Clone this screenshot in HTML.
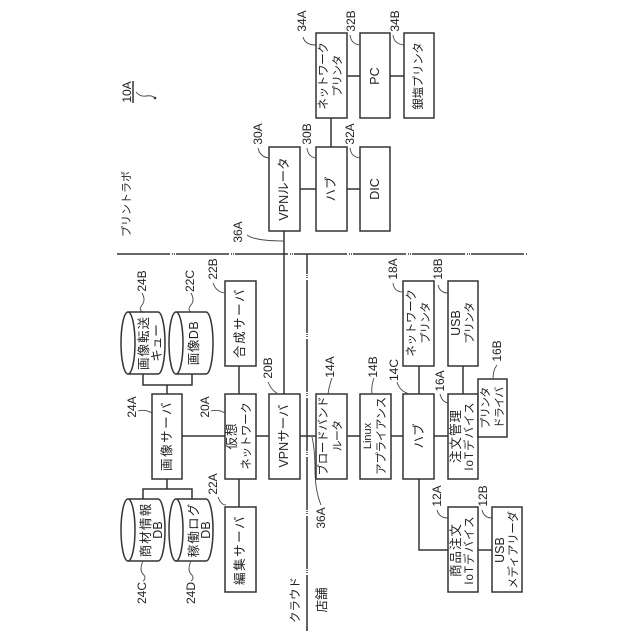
<!DOCTYPE html>
<html><head><meta charset="utf-8"><style>
html,body{margin:0;padding:0;background:#fff}
svg{display:block}
rect{fill:#fff;stroke:#333;stroke-width:1.5}
.l,.c{fill:none;stroke:#333;stroke-width:1.5}
.t{stroke:#444;stroke-width:.9;fill:none}
text{font-family:"Liberation Sans","Noto Sans CJK JP",sans-serif;fill:#222;text-anchor:middle;dominant-baseline:central}
.b{font-size:12.5px}
.k{font-size:11.5px;letter-spacing:-.3px}
.p{font-size:11px;letter-spacing:-.7px}
.i{font-size:11.5px;letter-spacing:1px}
.s{font-size:11px}
.n{font-size:12px}
</style></head><body>
<svg width="640" height="640" viewBox="0 0 640 640" xmlns="http://www.w3.org/2000/svg">
<!-- boundaries -->
<path class="l" stroke-dasharray="53 2 1 1 1 1" d="M117 254H527"/>
<path class="l" stroke-dasharray="53 2 1 1 1 1" stroke-dashoffset="-3" d="M307 631V254"/>
<path class="l" d="M307 631V627"/>
<!-- connectors -->
<path class="l" d="M143 374V385H192V374M167 385V394M143 499V489H192V499M167 489V479"/>
<path class="l" d="M182 436H448M239 366V394M239 479V507"/>
<path class="l" d="M284 231V394M300 189H360M331 118V147M347 76H404"/>
<path class="l" d="M419 366V394M463 366V394M419 479V550H492"/>
<!-- boxes -->
<rect x="225" y="281" width="31" height="85"/>
<rect x="152" y="394" width="30" height="85"/>
<rect x="225" y="394" width="31" height="85"/>
<rect x="269" y="394" width="31" height="85"/>
<rect x="225" y="507" width="31" height="85"/>
<rect x="269" y="147" width="31" height="84"/>
<rect x="316" y="147" width="31" height="84"/>
<rect x="360" y="147" width="30" height="84"/>
<rect x="316" y="33" width="31" height="85"/>
<rect x="360" y="33" width="30" height="85"/>
<rect x="404" y="33" width="30" height="85"/>
<rect x="316" y="394" width="31" height="85"/>
<rect x="360" y="394" width="31" height="85"/>
<rect x="403" y="394" width="31" height="85"/>
<rect x="448" y="394" width="30" height="85"/>
<rect x="478" y="379" width="29" height="58"/>
<rect x="403" y="281" width="31" height="85"/>
<rect x="448" y="281" width="30" height="85"/>
<rect x="448" y="507" width="30" height="85"/>
<rect x="492" y="507" width="30" height="85"/>
<!-- cylinders -->
<path class="c" d="M128 312H158A7 31 0 0 1 158 374H128A7 31 0 0 1 128 312A7 31 0 0 1 128 374"/>
<path class="c" d="M176 312H206A7 31 0 0 1 206 374H176A7 31 0 0 1 176 312A7 31 0 0 1 176 374"/>
<path class="c" d="M128 499H158A7 31 0 0 1 158 561H128A7 31 0 0 1 128 499A7 31 0 0 1 128 561"/>
<path class="c" d="M176 499H206A7 31 0 0 1 206 561H176A7 31 0 0 1 176 499A7 31 0 0 1 176 561"/>
<!-- box text -->
<g class="b">
<text transform="translate(240 323) rotate(-90)" letter-spacing="1.5">合成サーバ</text>
<text transform="translate(167 436) rotate(-90)" letter-spacing="1.5">画像サーバ</text>
<text transform="translate(232 436) rotate(-90)" letter-spacing="1">仮想</text>
<text class="k" transform="translate(247 436) rotate(-90)">ネットワーク</text>
<text transform="translate(284 436) rotate(-90)">VPNサーバ</text>
<text transform="translate(240 550) rotate(-90)" letter-spacing="1.5">編集サーバ</text>
<text transform="translate(144 343) rotate(-90)" letter-spacing="1">画像転送</text>
<text transform="translate(157 343) rotate(-90)">キュー</text>
<text transform="translate(194 343) rotate(-90)" letter-spacing=".5">画像DB</text>
<text transform="translate(146 530) rotate(-90)" letter-spacing="1.2">商材情報</text>
<text transform="translate(158 530) rotate(-90)">DB</text>
<text transform="translate(194 530) rotate(-90)" letter-spacing="1.2">稼働ログ</text>
<text transform="translate(206 530) rotate(-90)">DB</text>
<text transform="translate(284 189) rotate(-90)">VPNルータ</text>
<text transform="translate(331 189) rotate(-90)">ハブ</text>
<text transform="translate(375 189) rotate(-90)">DIC</text>
<text class="k" transform="translate(324 76) rotate(-90)">ネットワーク</text>
<text class="p" transform="translate(338 76) rotate(-90)">プリンタ</text>
<text transform="translate(375 76) rotate(-90)">PC</text>
<text class="k" transform="translate(419 76) rotate(-90)">銀塩プリンタ</text>
<text class="k" transform="translate(324 436) rotate(-90)">ブロードバンド</text>
<text class="p" transform="translate(338 436) rotate(-90)">ルータ</text>
<text transform="translate(368 436) rotate(-90)" font-size="11">Linux</text>
<text class="k" transform="translate(382 436) rotate(-90)">アプライアンス</text>
<text transform="translate(419 436) rotate(-90)">ハブ</text>
<text transform="translate(456 436) rotate(-90)" letter-spacing="1">注文管理</text>
<text class="i" transform="translate(470 436) rotate(-90)">IoTデバイス</text>
<text class="p" transform="translate(486 408) rotate(-90)">プリンタ</text>
<text class="p" transform="translate(500 408) rotate(-90)">ドライバ</text>
<text class="k" transform="translate(412 323) rotate(-90)">ネットワーク</text>
<text class="p" transform="translate(426 323) rotate(-90)">プリンタ</text>
<text transform="translate(456 323) rotate(-90)">USB</text>
<text class="p" transform="translate(470 323) rotate(-90)">プリンタ</text>
<text transform="translate(456 550) rotate(-90)" letter-spacing="1">商品注文</text>
<text class="i" transform="translate(470 550) rotate(-90)">IoTデバイス</text>
<text transform="translate(500 550) rotate(-90)">USB</text>
<text class="k" transform="translate(514 550) rotate(-90)">メディアリーダ</text>
</g>
<!-- region labels -->
<g class="s">
<text transform="translate(127 204) rotate(-90)">プリントラボ</text>
<text transform="translate(296 600) rotate(-90)" font-size="11.5">クラウド</text>
<text transform="translate(322 600) rotate(-90)" font-size="12.5">店舗</text>
</g>
<!-- reference numbers -->
<g class="n">
<text transform="translate(127 92) rotate(-90)">10A</text>
<text transform="translate(142 281) rotate(-90)">24B</text>
<text transform="translate(190 281) rotate(-90)">22C</text>
<text transform="translate(213 269) rotate(-90)">22B</text>
<text transform="translate(132 407) rotate(-90)">24A</text>
<text transform="translate(205 407) rotate(-90)">20A</text>
<text transform="translate(268 368) rotate(-90)">20B</text>
<text transform="translate(213 484) rotate(-90)">22A</text>
<text transform="translate(142 593) rotate(-90)">24C</text>
<text transform="translate(191 593) rotate(-90)">24D</text>
<text transform="translate(238 232) rotate(-90)">36A</text>
<text transform="translate(321 518) rotate(-90)">36A</text>
<text transform="translate(258 134) rotate(-90)">30A</text>
<text transform="translate(307 134) rotate(-90)">30B</text>
<text transform="translate(350 134) rotate(-90)">32A</text>
<text transform="translate(302 21) rotate(-90)">34A</text>
<text transform="translate(351 21) rotate(-90)">32B</text>
<text transform="translate(395 21) rotate(-90)">34B</text>
<text transform="translate(393 269) rotate(-90)">18A</text>
<text transform="translate(438 269) rotate(-90)">18B</text>
<text transform="translate(497 351) rotate(-90)">16B</text>
<text transform="translate(440 381) rotate(-90)">16A</text>
<text transform="translate(394 370) rotate(-90)">14C</text>
<text transform="translate(373 367) rotate(-90)">14B</text>
<text transform="translate(330 367) rotate(-90)">14A</text>
<text transform="translate(437 496) rotate(-90)">12A</text>
<text transform="translate(483 496) rotate(-90)">12B</text>
</g>
<!-- underline + leaders -->
<path class="l" d="M133 81V103"/>
<circle cx="155" cy="98" r="1.3" fill="#333"/>
<path class="t" d="M136 92Q140 97 146 96T155 98"/>
<path class="t" d="M142 293Q146 300 142 305T143 312"/>
<path class="t" d="M191 293Q195 300 191 305T191 312"/>
<path class="t" d="M213 283Q216 292 225 293"/>
<path class="t" d="M138 411Q145 409 152 413"/>
<path class="t" d="M211 411Q218 409 225 413"/>
<path class="t" d="M268 382Q272 391 277 393"/>
<path class="t" d="M218 497Q221 505 226 505"/>
<path class="t" d="M143 561Q139 570 143 574T143 581"/>
<path class="t" d="M191 561Q187 570 191 574T191 581"/>
<path class="t" d="M247 235Q255 241 284 241"/>
<path class="t" d="M321 505Q315 490 315 470T312 437"/>
<path class="t" d="M258 148Q260 157 269 158"/>
<path class="t" d="M307 148Q308 157 316 158"/>
<path class="t" d="M350 148Q351 157 360 158"/>
<path class="t" d="M303 37Q305 45 316 45"/>
<path class="t" d="M350 35Q351 44 360 45"/>
<path class="t" d="M393 35Q394 44 404 45"/>
<path class="t" d="M393 283Q394 292 403 292"/>
<path class="t" d="M438 285Q440 293 448 293"/>
<path class="t" d="M497 365Q493 370 493 379"/>
<path class="t" d="M440 394Q442 402 448 403"/>
<path class="t" d="M397 382Q400 392 410 394"/>
<path class="t" d="M374 378Q371 386 372 394"/>
<path class="t" d="M332 378Q329 386 328 394"/>
<path class="t" d="M437 510Q439 518 448 518"/>
<path class="t" d="M482 510Q484 518 492 518"/>
</svg>
</body></html>
